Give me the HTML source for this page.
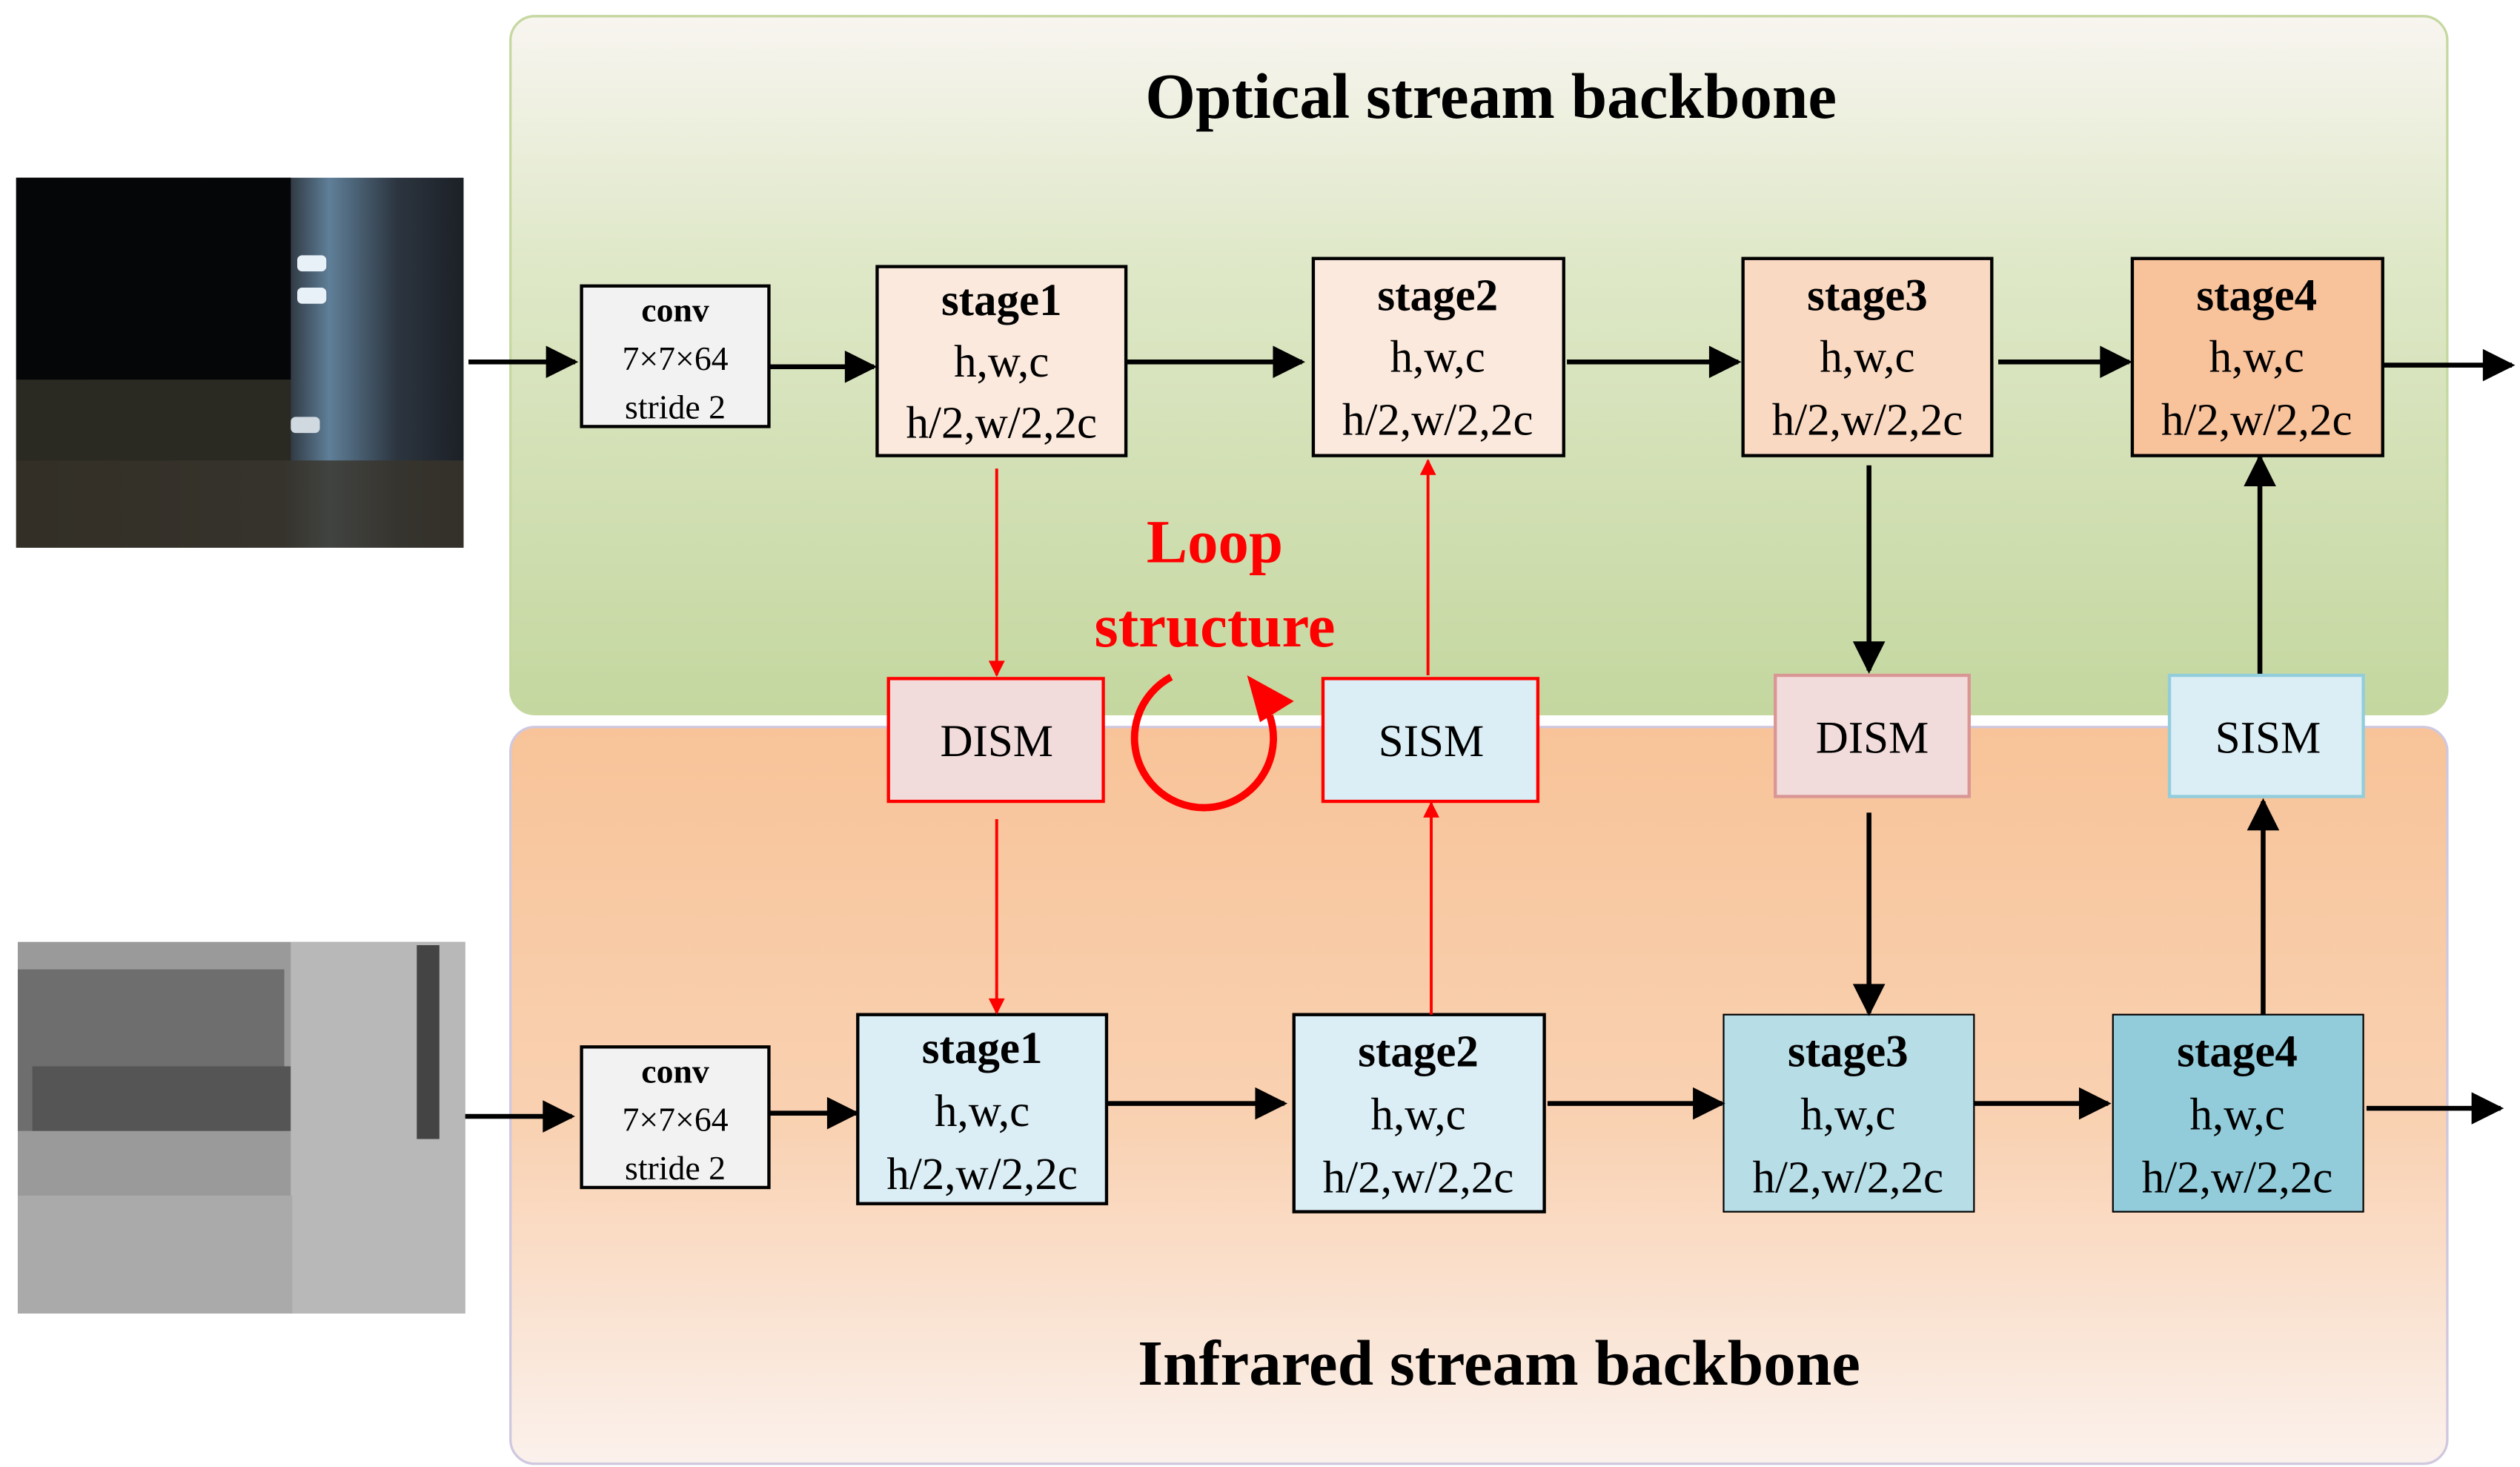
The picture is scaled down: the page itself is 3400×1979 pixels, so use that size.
<!DOCTYPE html>
<html><head><meta charset="utf-8"><style>
html,body{margin:0;padding:0;background:#fff;}
svg{display:block;}
text{font-family:"Liberation Serif",serif;}
</style></head><body>
<svg width="3400" height="1979" viewBox="0 0 1560 908" xmlns="http://www.w3.org/2000/svg">
<defs>
<linearGradient id="gG" x1="0" y1="0" x2="0" y2="1"><stop offset="0" stop-color="#f8f5f0"/><stop offset="0.35" stop-color="#dfe8c8"/><stop offset="1" stop-color="#c4d79f"/></linearGradient>
<linearGradient id="gO" x1="0" y1="0" x2="0" y2="1"><stop offset="0" stop-color="#f8c398"/><stop offset="0.55" stop-color="#f9d2b3"/><stop offset="1" stop-color="#fbf1ec"/></linearGradient>
<linearGradient id="gN" x1="0" y1="0" x2="1" y2="0"><stop offset="0" stop-color="#1a1a14"/><stop offset="0.6" stop-color="#2a3038"/><stop offset="0.7" stop-color="#5f7f98"/><stop offset="0.85" stop-color="#2c3540"/><stop offset="1" stop-color="#1c2026"/></linearGradient>
<marker id="ab" viewBox="0 0 10 10" refX="9" refY="5" markerWidth="10" markerHeight="10" markerUnits="userSpaceOnUse" orient="auto"><path d="M0,0 L10,5 L0,10 z" fill="#000"/></marker>
<marker id="abL" viewBox="0 0 10 10" refX="9" refY="5" markerWidth="22" markerHeight="20" markerUnits="userSpaceOnUse" orient="auto"><path d="M0,0 L10,5 L0,10 z" fill="#000"/></marker>
<marker id="ar" viewBox="0 0 10 10" refX="9" refY="5" markerWidth="16" markerHeight="10" markerUnits="userSpaceOnUse" orient="auto"><path d="M0,0 L10,5 L0,10 z" fill="#f00"/></marker>
</defs>

<rect x="316" y="10" width="1199" height="432" rx="15" fill="url(#gG)" stroke="#c5d8a0" stroke-width="1.5"/>
<rect x="316" y="450" width="1199" height="456" rx="15" fill="url(#gO)" stroke="#cfc8df" stroke-width="1.5"/>

<!-- optical image -->
<rect x="10" y="110" width="277" height="229" fill="url(#gN)"/>
<rect x="10" y="110" width="170" height="125" fill="#050608"/>
<rect x="10" y="235" width="170" height="50" fill="#2a2a22"/>
<rect x="10" y="285" width="277" height="54" fill="#3a352a" opacity="0.8"/>
<rect x="184" y="158" width="18" height="10" rx="3" fill="#e8f0f8"/>
<rect x="184" y="178" width="18" height="10" rx="3" fill="#e8f0f8"/>
<rect x="180" y="258" width="18" height="10" rx="3" fill="#d0d8e0"/>
<!-- infrared image -->
<rect x="11" y="583" width="277" height="230" fill="#9a9a9a"/>
<rect x="11" y="600" width="165" height="100" fill="#6e6e6e"/>
<rect x="20" y="660" width="160" height="40" fill="#555"/>
<rect x="180" y="583" width="108" height="230" fill="#b8b8b8"/>
<rect x="11" y="740" width="170" height="73" fill="#aaa"/>
<rect x="258" y="585" width="14" height="120" fill="#444"/>

<text x="923" y="73" font-size="40" font-weight="bold" text-anchor="middle">Optical stream backbone</text>
<text x="928" y="857" font-size="40" font-weight="bold" text-anchor="middle">Infrared stream backbone</text>

<!-- top row boxes -->
<g stroke="#000" stroke-width="2">
<rect x="360" y="177" width="116" height="87" fill="#f2f2f2"/>
<rect x="543" y="165" width="154" height="117" fill="#fbe9dd"/>
<rect x="813" y="160" width="155" height="122" fill="#fbe9dd"/>
<rect x="1079" y="160" width="154" height="122" fill="#fad9c2"/>
<rect x="1320" y="160" width="155" height="122" fill="#f8c29b"/>
<rect x="360" y="648" width="116" height="87" fill="#f2f2f2"/>
<rect x="531" y="628" width="154" height="117" fill="#dbeef5"/>
<rect x="801" y="628" width="155" height="122" fill="#dbeef5"/>
<rect x="1067" y="628" width="155" height="122" fill="#b7dde7" stroke-width="1"/>
<rect x="1308" y="628" width="155" height="122" fill="#92ccdb" stroke-width="1"/>
</g>
<rect x="550" y="420" width="133" height="76" fill="#f2dcdb" stroke="#f00" stroke-width="2"/>
<rect x="819" y="420" width="133" height="76" fill="#dbeef5" stroke="#f00" stroke-width="2"/>
<rect x="1099" y="418" width="120" height="75" fill="#f2dcdb" stroke="#d99694" stroke-width="2"/>
<rect x="1343" y="418" width="120" height="75" fill="#dbeef5" stroke="#92cddc" stroke-width="2"/>

<g font-size="28" text-anchor="middle">
<text x="418" y="199" font-size="21" font-weight="bold">conv</text>
<text x="418" y="229" font-size="21">7×7×64</text>
<text x="418" y="259" font-size="21">stride 2</text>
<text x="418" y="670" font-size="21" font-weight="bold">conv</text>
<text x="418" y="700" font-size="21">7×7×64</text>
<text x="418" y="730" font-size="21">stride 2</text>

<text x="620" y="195" font-weight="bold">stage1</text><text x="620" y="233">h,w,c</text><text x="620" y="271">h/2,w/2,2c</text>
<text x="890" y="192" font-weight="bold">stage2</text><text x="890" y="230">h,w,c</text><text x="890" y="269">h/2,w/2,2c</text>
<text x="1156" y="192" font-weight="bold">stage3</text><text x="1156" y="230">h,w,c</text><text x="1156" y="269">h/2,w/2,2c</text>
<text x="1397" y="192" font-weight="bold">stage4</text><text x="1397" y="230">h,w,c</text><text x="1397" y="269">h/2,w/2,2c</text>
<text x="608" y="658" font-weight="bold">stage1</text><text x="608" y="697">h,w,c</text><text x="608" y="736">h/2,w/2,2c</text>
<text x="878" y="660" font-weight="bold">stage2</text><text x="878" y="699">h,w,c</text><text x="878" y="738">h/2,w/2,2c</text>
<text x="1144" y="660" font-weight="bold">stage3</text><text x="1144" y="699">h,w,c</text><text x="1144" y="738">h/2,w/2,2c</text>
<text x="1385" y="660" font-weight="bold">stage4</text><text x="1385" y="699">h,w,c</text><text x="1385" y="738">h/2,w/2,2c</text>

<text x="617" y="468">DISM</text>
<text x="886" y="468">SISM</text>
<text x="1159" y="466">DISM</text>
<text x="1404" y="466">SISM</text>
</g>

<text x="752" y="348" font-size="38" font-weight="bold" fill="#f00" text-anchor="middle">Loop</text>
<text x="752" y="400" font-size="38" font-weight="bold" fill="#f00" text-anchor="middle">structure</text>
<path d="M725,419 A43,43 0 1 0 786,443" fill="none" stroke="#f00" stroke-width="4.5"/>
<path d="M772,418 L801,434 L780,447 z" fill="#f00"/>

<!-- horizontal arrows -->
<g stroke="#000" stroke-width="3" fill="none">
<line x1="290" y1="224" x2="356" y2="224" marker-end="url(#abL)"/>
<line x1="476" y1="227" x2="541" y2="227" marker-end="url(#abL)"/>
<line x1="697" y1="224" x2="806" y2="224" marker-end="url(#abL)"/>
<line x1="970" y1="224" x2="1076" y2="224" marker-end="url(#abL)"/>
<line x1="1237" y1="224" x2="1318" y2="224" marker-end="url(#abL)"/>
<line x1="1475" y1="226" x2="1555" y2="226" marker-end="url(#abL)"/>
<line x1="288" y1="691" x2="354" y2="691" marker-end="url(#abL)"/>
<line x1="476" y1="689" x2="530" y2="689" marker-end="url(#abL)"/>
<line x1="685" y1="683" x2="795" y2="683" marker-end="url(#abL)"/>
<line x1="958" y1="683" x2="1066" y2="683" marker-end="url(#abL)"/>
<line x1="1222" y1="683" x2="1305" y2="683" marker-end="url(#abL)"/>
<line x1="1465" y1="686" x2="1548" y2="686" marker-end="url(#abL)"/>
<line x1="1157" y1="288" x2="1157" y2="415" marker-end="url(#abL)"/>
<line x1="1157" y1="503" x2="1157" y2="627" marker-end="url(#abL)"/>
<line x1="1401" y1="628" x2="1401" y2="496" marker-end="url(#abL)"/>
<line x1="1399" y1="417" x2="1399" y2="283" marker-end="url(#abL)"/>
</g>
<g stroke="#f00" stroke-width="1.8" fill="none">
<line x1="617" y1="290" x2="617" y2="418" marker-end="url(#ar)"/>
<line x1="617" y1="507" x2="617" y2="627" marker-end="url(#ar)"/>
<line x1="886" y1="628" x2="886" y2="497" marker-end="url(#ar)"/>
<line x1="884" y1="418" x2="884" y2="285" marker-end="url(#ar)"/>
</g>
</svg>
</body></html>
